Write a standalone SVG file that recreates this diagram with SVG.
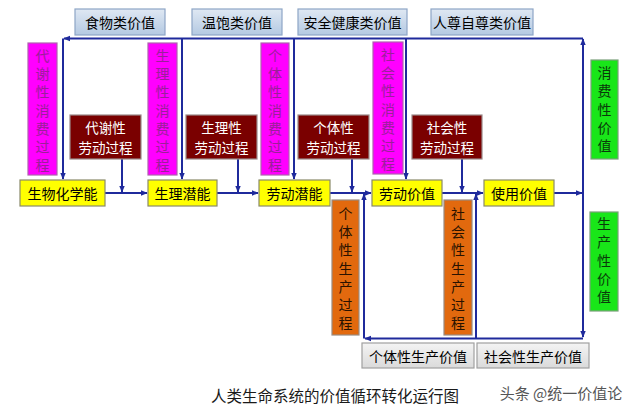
<svg xmlns="http://www.w3.org/2000/svg" width="640" height="412" viewBox="0 0 640 412">
<defs>
<linearGradient id="gBlue" x1="0" y1="0" x2="0" y2="1"><stop offset="0" stop-color="#dfe8f3"/><stop offset="1" stop-color="#b4c9e2"/></linearGradient>
<linearGradient id="gGrey" x1="0" y1="0" x2="0" y2="1"><stop offset="0" stop-color="#f4f4f4"/><stop offset="1" stop-color="#dadada"/></linearGradient>
<marker id="ah" viewBox="0 0 10 10" refX="9" refY="5" markerWidth="7" markerHeight="7" markerUnits="userSpaceOnUse" orient="auto"><path d="M0,1 L10,5 L0,9 Z" fill="#1f2a9c"/></marker>
</defs>
<style>
text{font-family:"Noto Sans CJK SC","Noto Sans CJK TC",sans-serif;font-size:14px;text-anchor:middle;dominant-baseline:central}
.blue{fill:url(#gBlue);stroke:#8ea6c6;stroke-width:1.2}
.grey{fill:url(#gGrey);stroke:#a0a0a0;stroke-width:1.2}
.mag{fill:#ff00ff;stroke:#b060b0;stroke-width:1.2}
.magt{fill:#9a1f9a}
.red{fill:#7a0000;stroke:#9a8a8a;stroke-width:1.2}
.redt{fill:#ffffff;font-size:13.5px}
.yel{fill:#ffff00;stroke:#8a8a6a;stroke-width:1.2}
.grn{fill:#19e619;stroke:#7aa07a;stroke-width:1.2}
.grnt{fill:#0a3a0a}
.org{fill:#e2690e;stroke:#9a8a80;stroke-width:1.2}
.orgt{fill:#2a1200}
.ln{fill:none;stroke:#1f2a9c;stroke-width:2}
.arr{marker-end:url(#ah)}
</style>
<rect width="640" height="412" fill="#ffffff"/>

<g id="connectors">
<path class="ln arr" d="M583,38.5 H64"/>
<path class="ln arr" d="M63,38.5 V179"/>
<path class="ln arr" d="M182,38.5 V179"/>
<path class="ln arr" d="M294,38.5 V179"/>
<path class="ln arr" d="M406,38.5 V179"/>
<path class="ln arr" d="M105,193 H147"/>
<path class="ln arr" d="M217,193 H258"/>
<path class="ln arr" d="M330,193 H371"/>
<path class="ln arr" d="M442,193 H483"/>
<path class="ln arr" d="M554,193 H582"/>
<path class="ln arr" d="M583,193 V39"/>
<path class="ln arr" d="M583,193 V337"/>
<path class="ln arr" d="M583,338.5 H365"/>
<path class="ln arr" d="M364,338.5 V194"/>
<path class="ln arr" d="M476,338.5 V194"/>
<path class="ln arr" d="M122,159 V192"/>
<path class="ln arr" d="M238,159 V192"/>
<path class="ln arr" d="M352,159 V192"/>
<path class="ln arr" d="M462,159 V192"/>
</g>

<g id="v-food"><rect class="blue" x="75" y="9" width="90" height="26"/><text x="120" y="22">食物类价值</text></g>
<g id="v-warm"><rect class="blue" x="192" y="9" width="90" height="26"/><text x="237" y="22">温饱类价值</text></g>
<g id="v-safe"><rect class="blue" x="298" y="9" width="109" height="26"/><text x="352.5" y="22">安全健康类价值</text></g>
<g id="v-respect"><rect class="blue" x="431" y="9" width="102" height="26"/><text x="482" y="22">人尊自尊类价值</text></g>

<g id="c-metab"><rect class="mag" x="28" y="43" width="29" height="132"/>
<text class="magt"><tspan x="42.5" y="55">代</tspan><tspan x="42.5" y="73.2">谢</tspan><tspan x="42.5" y="91.4">性</tspan><tspan x="42.5" y="109.6">消</tspan><tspan x="42.5" y="127.8">费</tspan><tspan x="42.5" y="146">过</tspan><tspan x="42.5" y="164.2">程</tspan></text></g>
<g id="c-phys"><rect class="mag" x="148" y="43" width="29" height="132"/>
<text class="magt"><tspan x="162.5" y="55">生</tspan><tspan x="162.5" y="73.2">理</tspan><tspan x="162.5" y="91.4">性</tspan><tspan x="162.5" y="109.6">消</tspan><tspan x="162.5" y="127.8">费</tspan><tspan x="162.5" y="146">过</tspan><tspan x="162.5" y="164.2">程</tspan></text></g>
<g id="c-indiv"><rect class="mag" x="261" y="43" width="28" height="132"/>
<text class="magt"><tspan x="275" y="55">个</tspan><tspan x="275" y="73.2">体</tspan><tspan x="275" y="91.4">性</tspan><tspan x="275" y="109.6">消</tspan><tspan x="275" y="127.8">费</tspan><tspan x="275" y="146">过</tspan><tspan x="275" y="164.2">程</tspan></text></g>
<g id="c-social"><rect class="mag" x="373" y="42" width="30" height="132"/>
<text class="magt"><tspan x="388" y="54">社</tspan><tspan x="388" y="72.2">会</tspan><tspan x="388" y="90.4">性</tspan><tspan x="388" y="108.6">消</tspan><tspan x="388" y="126.8">费</tspan><tspan x="388" y="145">过</tspan><tspan x="388" y="163.2">程</tspan></text></g>

<g id="l-metab"><rect class="red" x="70" y="115" width="71" height="44"/><text class="redt" x="105.5" y="127">代谢性</text><text class="redt" x="105.5" y="147">劳动过程</text></g>
<g id="l-phys"><rect class="red" x="186" y="115" width="71" height="44"/><text class="redt" x="221.5" y="127">生理性</text><text class="redt" x="221.5" y="147">劳动过程</text></g>
<g id="l-indiv"><rect class="red" x="298" y="115" width="71" height="44"/><text class="redt" x="333.5" y="127">个体性</text><text class="redt" x="333.5" y="147">劳动过程</text></g>
<g id="l-social"><rect class="red" x="412" y="115" width="70" height="44"/><text class="redt" x="447" y="127">社会性</text><text class="redt" x="447" y="147">劳动过程</text></g>

<g id="n-biochem"><rect class="yel" x="20" y="180" width="85" height="26"/><text x="62.5" y="193">生物化学能</text></g>
<g id="n-physpot"><rect class="yel" x="148" y="180" width="69" height="26"/><text x="182.5" y="193">生理潜能</text></g>
<g id="n-laborpot"><rect class="yel" x="259" y="180" width="71" height="26"/><text x="294.5" y="193">劳动潜能</text></g>
<g id="n-laborval"><rect class="yel" x="372" y="180" width="70" height="26"/><text x="407" y="193">劳动价值</text></g>
<g id="n-useval"><rect class="yel" x="484" y="180" width="70" height="26"/><text x="519" y="193">使用价值</text></g>

<g id="p-indiv"><rect class="org" x="332" y="200" width="27" height="135"/>
<text class="orgt"><tspan x="345.5" y="213">个</tspan><tspan x="345.5" y="231.2">体</tspan><tspan x="345.5" y="249.4">性</tspan><tspan x="345.5" y="267.6">生</tspan><tspan x="345.5" y="285.8">产</tspan><tspan x="345.5" y="304">过</tspan><tspan x="345.5" y="322.2">程</tspan></text></g>
<g id="p-social"><rect class="org" x="444" y="200" width="28" height="135"/>
<text class="orgt"><tspan x="458" y="213">社</tspan><tspan x="458" y="231.2">会</tspan><tspan x="458" y="249.4">性</tspan><tspan x="458" y="267.6">生</tspan><tspan x="458" y="285.8">产</tspan><tspan x="458" y="304">过</tspan><tspan x="458" y="322.2">程</tspan></text></g>

<g id="g-consume"><rect class="grn" x="591" y="60" width="27" height="99"/>
<text class="grnt"><tspan x="604.5" y="72">消</tspan><tspan x="604.5" y="90.3">费</tspan><tspan x="604.5" y="108.6">性</tspan><tspan x="604.5" y="126.9">价</tspan><tspan x="604.5" y="145.2">值</tspan></text></g>
<g id="g-produce"><rect class="grn" x="590" y="212" width="28" height="99"/>
<text class="grnt"><tspan x="604" y="223">生</tspan><tspan x="604" y="241.3">产</tspan><tspan x="604" y="259.6">性</tspan><tspan x="604" y="277.9">价</tspan><tspan x="604" y="296.2">值</tspan></text></g>

<g id="b-indiv"><rect class="grey" x="362" y="343" width="112" height="25"/><text x="418" y="355.5">个体性生产价值</text></g>
<g id="b-social"><rect class="grey" x="477" y="343" width="112" height="25"/><text x="533" y="355.5">社会性生产价值</text></g>

<text x="335" y="395" style="font-size:15.5px;fill:#1a1a1a">人类生命系统的价值循环转化运行图</text>
<text x="561" y="392" style="font-size:15px;fill:#555555">头条 @统一价值论</text>
</svg>
